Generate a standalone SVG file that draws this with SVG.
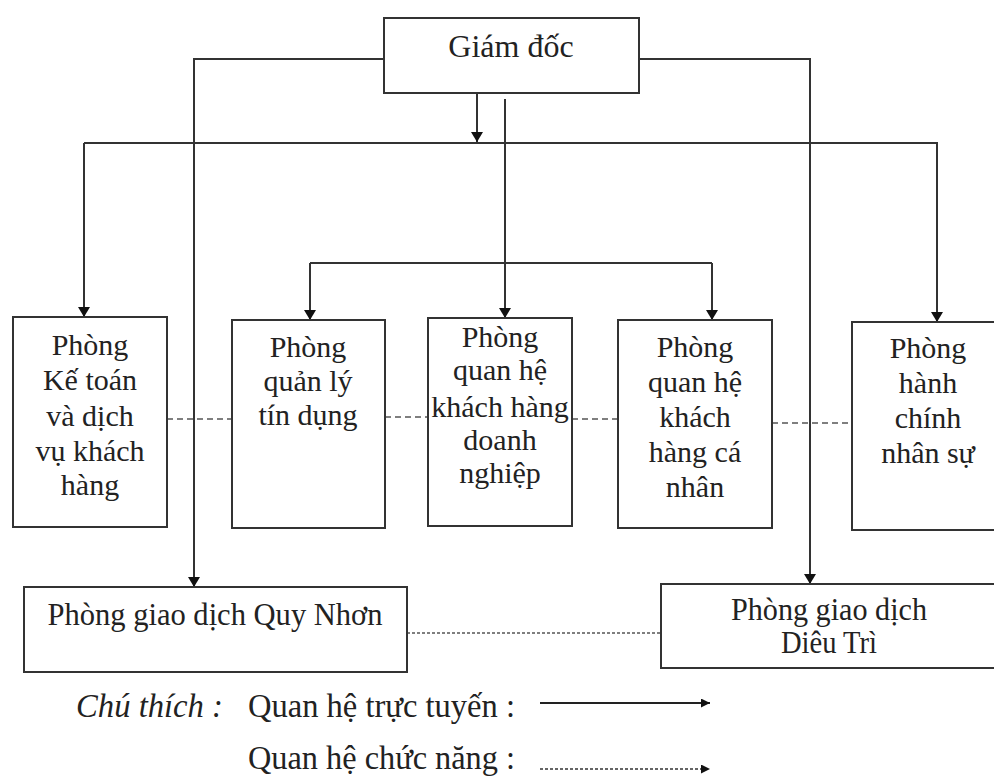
<svg xmlns="http://www.w3.org/2000/svg" width="994" height="778" viewBox="0 0 994 778">
<defs>
<marker id="ah" viewBox="0 0 10 12" refX="10" refY="6" markerWidth="12" markerHeight="12" markerUnits="userSpaceOnUse" orient="auto">
<path d="M0,0 L10,6 L0,12 Z" fill="#111"/>
</marker>
<marker id="ahs" viewBox="0 0 10 10" refX="10" refY="5" markerWidth="9" markerHeight="9" markerUnits="userSpaceOnUse" orient="auto">
<path d="M0,0 L10,5 L0,10 Z" fill="#111"/>
</marker>
</defs>
<style>
.box{fill:#fff;stroke:#333;stroke-width:2}
.t{font-family:"Liberation Serif","Times New Roman",serif;font-size:30px;fill:#222;text-anchor:middle}
.ln{fill:none;stroke:#333;stroke-width:2}
.ar{fill:none;stroke:#333;stroke-width:2;marker-end:url(#ah)}
.dash{fill:none;stroke:#555;stroke-width:1.6;stroke-dasharray:6 4}
.dot{fill:none;stroke:#555;stroke-width:1.5;stroke-dasharray:3 2}
</style>
<rect width="994" height="778" fill="#fff"/>
<g id="connectors">
<polyline class="ar" points="384,59 194,59 194,587"/>
<polyline class="ar" points="639,59 810,59 810,584"/>
<line class="ar" x1="477" y1="93" x2="477" y2="142"/>
<line class="ln" x1="84" y1="143" x2="938" y2="143"/>
<line class="ar" x1="84" y1="143" x2="84" y2="317"/>
<line class="ar" x1="937" y1="143" x2="937" y2="322"/>
<line class="ar" x1="505" y1="99" x2="505" y2="318"/>
<polyline class="ln" points="310,263 712,263"/>
<line class="ar" x1="310" y1="263" x2="310" y2="320"/>
<line class="ar" x1="712" y1="263" x2="712" y2="320"/>
<line class="dash" x1="167" y1="419" x2="232" y2="419"/>
<line class="dash" x1="385" y1="417" x2="428" y2="417"/>
<line class="dash" x1="572" y1="419" x2="618" y2="419"/>
<line class="dash" x1="772" y1="423" x2="852" y2="423"/>
<line class="dot" x1="407" y1="633" x2="661" y2="633"/>
</g>
<g id="giamdoc">
<rect class="box" x="384" y="18" width="255" height="75"/>
<text class="t" x="511" y="57" style="font-size:32px">Giám đốc</text>
</g>
<g id="ketoan">
<rect class="box" x="13" y="317" width="154" height="210"/>
<text class="t" x="90" y="355">Phòng</text>
<text class="t" x="90" y="390">Kế toán</text>
<text class="t" x="90" y="426">và dịch</text>
<text class="t" x="90" y="461">vụ khách</text>
<text class="t" x="90" y="495">hàng</text>
</g>
<g id="quanlytindung">
<rect class="box" x="232" y="320" width="153" height="208"/>
<text class="t" x="308" y="357">Phòng</text>
<text class="t" x="308" y="391">quản lý</text>
<text class="t" x="308" y="425">tín dụng</text>
</g>
<g id="khdn">
<rect class="box" x="428" y="318" width="144" height="208"/>
<text class="t" x="500" y="347">Phòng</text>
<text class="t" x="500" y="380">quan hệ</text>
<text class="t" x="500" y="417">khách hàng</text>
<text class="t" x="500" y="450">doanh</text>
<text class="t" x="500" y="483">nghiệp</text>
</g>
<g id="khcn">
<rect class="box" x="618" y="320" width="154" height="208"/>
<text class="t" x="695" y="357">Phòng</text>
<text class="t" x="695" y="392">quan hệ</text>
<text class="t" x="695" y="427">khách</text>
<text class="t" x="695" y="462">hàng cá</text>
<text class="t" x="695" y="497">nhân</text>
</g>
<g id="hanhchinh">
<rect class="box" x="852" y="322" width="150" height="208"/>
<text class="t" x="928" y="358">Phòng</text>
<text class="t" x="928" y="393">hành</text>
<text class="t" x="928" y="428">chính</text>
<text class="t" x="928" y="463">nhân sự</text>
</g>
<g id="quynhon">
<rect class="box" x="24" y="587" width="383" height="85"/>
<text class="t" x="215" y="625" style="font-size:32px" textLength="335" lengthAdjust="spacingAndGlyphs">Phòng giao dịch Quy Nhơn</text>
</g>
<g id="dieutri">
<rect class="box" x="661" y="584" width="345" height="84"/>
<text class="t" x="829" y="620" style="font-size:32px" textLength="196" lengthAdjust="spacingAndGlyphs">Phòng giao dịch</text>
<text class="t" x="829" y="653" style="font-size:32px" textLength="96" lengthAdjust="spacingAndGlyphs">Diêu Trì</text>
</g>
<g id="legend">
<text class="t" x="76" y="717" style="text-anchor:start;font-style:italic;font-size:33px" textLength="147" lengthAdjust="spacingAndGlyphs">Chú thích :</text>
<text class="t" x="248" y="717" style="text-anchor:start;font-size:33px" textLength="267" lengthAdjust="spacingAndGlyphs">Quan hệ trực tuyến :</text>
<line x1="540" y1="703" x2="710" y2="703" stroke="#222" stroke-width="2" marker-end="url(#ahs)"/>
<text class="t" x="248" y="769" style="text-anchor:start;font-size:33px" textLength="267" lengthAdjust="spacingAndGlyphs">Quan hệ chức năng :</text>
<line x1="540" y1="769" x2="710" y2="769" stroke="#333" stroke-width="1.5" stroke-dasharray="3 2" marker-end="url(#ahs)"/>
</g>
</svg>
